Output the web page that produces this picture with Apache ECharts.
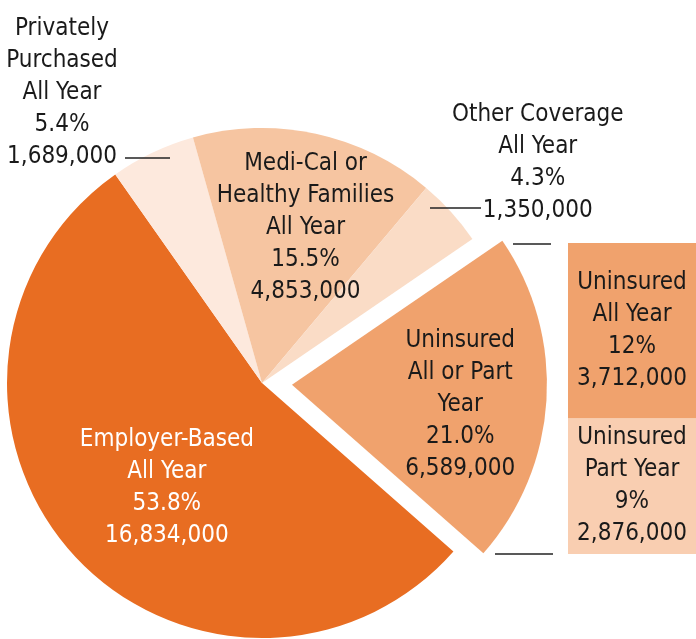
<!DOCTYPE html>
<html>
<head>
<meta charset="utf-8">
<script src="https://cdn.jsdelivr.net/npm/echarts@6/dist/echarts.min.js"></script>
<style>
  html, body { margin: 0; padding: 0; background: #fff; }
  #chart { width: 696px; height: 639px; }
</style>
</head>
<body>
<div id="chart"></div>
<script>
// pie slices, clockwise from the exploded one
const sliceNames = ['Uninsured\nAll or Part\nYear', 'Employer-Based\nAll Year', 'Privately\nPurchased\nAll Year', 'Medi-Cal or\nHealthy Families\nAll Year', 'Other Coverage\nAll Year'];
const sliceValues = [6589000, 16834000, 1689000, 4853000, 1350000];
const slicePct = ['21.0%', '53.8%', '5.4%', '15.5%', '4.3%'];

// breakdown of the uninsured slice
const uninsuredNames = ['Uninsured\nPart Year', 'Uninsured\nAll Year'];
const uninsuredValues = [2876000, 3712000];
const uninsuredPct = ['9%', '12%'];

const fontFamily = '"Liberation Sans Narrow", "DejaVu Sans Condensed", "Roboto Condensed", sans-serif';
const sliceColors = ['#F0A26D', '#E86D22', '#FDE9DD', '#F6C5A1', '#FADCC6'];
const barColors = ['#F9CEB1', '#F0A26D'];
const labelOffsets = [[38, 12], [2, 18], [-144, -172], [16, -28], [179, -133]];

const cx = 262, cy = 383, r = 255;

const fmt = (v) => v.toLocaleString('en-US');

const pieData = sliceNames.map((n, i) => ({
    name: n,
    value: sliceValues[i],
    selected: i === 0,
    itemStyle: { color: sliceColors[i] },
    label: {
        position: 'inside',
        offset: labelOffsets[i],
        color: i === 1 ? '#fff' : '#1a1a1a'
    },
    select: {
        label: { offset: labelOffsets[i], color: '#1a1a1a' }
    }
}));

const lineStyle = { stroke: '#222', lineWidth: 1.5 };
const seg = (x1, y1, x2, y2) => ({ type: 'line', z: 100, shape: { x1, y1, x2, y2 }, style: lineStyle, silent: true });

let option = {
    animation: false,
    backgroundColor: '#fff',
    grid: { left: 568, top: 243, width: 128, height: 311 },
    xAxis: { type: 'category', data: ['u'], show: false },
    yAxis: { type: 'value', min: 0, max: uninsuredValues[0] + uninsuredValues[1], show: false },
    series: [
        {
            type: 'pie',
            center: [cx, cy],
            radius: r,
            startAngle: 34.4,
            clockwise: true,
            selectedMode: 'single',
            selectedOffset: 30,
            avoidLabelOverlap: false,
            emphasis: { disabled: true },
            label: {
                fontFamily,
                fontSize: 24,
                lineHeight: 32,
                align: 'center',
                formatter: (p) => p.name + '\n' + slicePct[p.dataIndex] + '\n' + fmt(p.value)
            },
            labelLine: { show: false },
            data: pieData
        },
        ...uninsuredNames.map((n, i) => ({
            type: 'bar',
            name: n,
            stack: 'u',
            barWidth: '100%',
            data: [uninsuredValues[i]],
            itemStyle: { color: barColors[i] },
            label: {
                show: true,
                position: 'inside',
                fontFamily,
                fontSize: 24,
                lineHeight: 32,
                color: '#1a1a1a',
                formatter: () => n + '\n' + uninsuredPct[i] + '\n' + fmt(uninsuredValues[i])
            }
        }))
    ],
    graphic: [
        seg(125, 158, 170, 158),
        seg(430, 208, 481, 208),
        seg(513, 244, 551, 244),
        seg(495, 554, 553, 554)
    ]
};

const myChart = echarts.init(document.getElementById('chart'));
myChart.setOption(option);
</script>
</body>
</html>
